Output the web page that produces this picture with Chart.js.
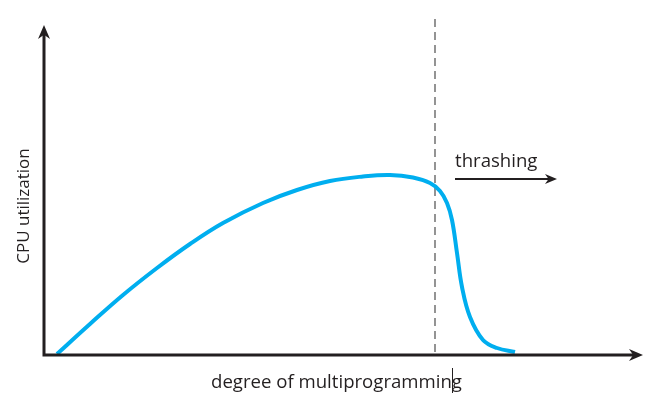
<!DOCTYPE html>
<html>
<head>
<meta charset="utf-8">
<script src="https://cdn.jsdelivr.net/npm/chart.js@4"></script>
<style>
  html, body { margin: 0; padding: 0; background: #fff; }
  #wrap { width: 656px; height: 398px; position: relative; }
</style>
</head>
<body>
<div id="wrap"><canvas id="thrashChart"></canvas></div>
<script>
// CPU utilization vs degree of multiprogramming
const degree = [13, 46, 79, 113, 146, 179, 219, 253, 286, 319, 346, 369, 386, 396, 403, 408, 413, 418, 426, 439, 453, 471];
const utilization = [1, 31, 60, 87, 111, 132, 152, 165, 174, 178.5, 180, 177.5, 172, 164, 152, 135, 102, 68, 38, 15, 7, 3];

// thrashing threshold and annotation
const thrashX = 391;
const thrashSpan = [3, 337];
const arrowX = [411, 513];
const arrowY = 176;

const xMax = 600;
const yMax = 340;
const axisTipX = 599;
const axisTipY = 330;

const ink = '#231f20';

function arrowHead(ctx, x, y, dir, len, half) {
  // dir: 'right' or 'up'
  ctx.beginPath();
  if (dir === 'right') {
    ctx.moveTo(x, y);
    ctx.lineTo(x - len, y - half);
    ctx.lineTo(x - len * 0.7, y);
    ctx.lineTo(x - len, y + half);
  } else {
    ctx.moveTo(x, y);
    ctx.lineTo(x - half, y + len);
    ctx.lineTo(x, y + len * 0.7);
    ctx.lineTo(x + half, y + len);
  }
  ctx.closePath();
  ctx.fill();
}

const decorations = {
  id: 'decorations',
  beforeDatasetsDraw(chart) {
    const ctx = chart.ctx;
    const xs = chart.scales.x;
    const ys = chart.scales.y;

    ctx.save();
    // dashed threshold
    ctx.strokeStyle = '#4d4d4d';
    ctx.lineWidth = 1.2;
    ctx.setLineDash([8, 5]);
    ctx.beginPath();
    ctx.moveTo(xs.getPixelForValue(thrashX), ys.getPixelForValue(thrashSpan[0]));
    ctx.lineTo(xs.getPixelForValue(thrashX), ys.getPixelForValue(thrashSpan[1]));
    ctx.stroke();
    ctx.restore();
  },
  afterDatasetsDraw(chart) {
    const ctx = chart.ctx;
    const xs = chart.scales.x;
    const ys = chart.scales.y;
    const x0 = xs.getPixelForValue(0);
    const y0 = ys.getPixelForValue(0);
    const xt = xs.getPixelForValue(axisTipX);
    const yt = ys.getPixelForValue(axisTipY);

    ctx.save();
    ctx.strokeStyle = ink;
    ctx.fillStyle = ink;
    ctx.lineWidth = 3;
    ctx.setLineDash([]);
    // axes
    ctx.beginPath();
    ctx.moveTo(x0, yt + 8);
    ctx.lineTo(x0, y0);
    ctx.lineTo(xt - 8, y0);
    ctx.stroke();
    arrowHead(ctx, xt, y0, 'right', 14, 6);
    arrowHead(ctx, x0, yt, 'up', 14, 6);

    // thrashing arrow
    const ay = ys.getPixelForValue(arrowY);
    const ax1 = xs.getPixelForValue(arrowX[0]);
    const ax2 = xs.getPixelForValue(arrowX[1]);
    ctx.lineWidth = 2;
    ctx.beginPath();
    ctx.moveTo(ax1, ay);
    ctx.lineTo(ax2 - 6, ay);
    ctx.stroke();
    arrowHead(ctx, ax2, ay, 'right', 12, 5);

    // labels
    ctx.font = '18.6px "Open Sans", sans-serif';
    ctx.textBaseline = 'alphabetic';
    ctx.textAlign = 'left';
    ctx.fillText('thrashing', ax1, 167);

    ctx.fillText('degree of multiprogramming', 211, 388);
    // stray cursor mark in the original figure
    ctx.lineWidth = 1;
    ctx.beginPath();
    ctx.moveTo(452.5, 368);
    ctx.lineTo(452.5, 393);
    ctx.stroke();

    ctx.font = '17px "Open Sans", sans-serif';
    ctx.textAlign = 'center';
    ctx.translate(29, 206);
    ctx.rotate(-Math.PI / 2);
    ctx.fillText('CPU utilization', 0, 0);
    ctx.restore();
  }
};

new Chart(document.getElementById('thrashChart').getContext('2d'), {
  type: 'scatter',
  data: {
    datasets: [{
      label: 'CPU utilization',
      data: degree.map((d, i) => ({ x: d, y: utilization[i] })),
      showLine: true,
      borderColor: '#00aeef',
      borderWidth: 4,
      pointRadius: 0,
      tension: 0.4,
      fill: false
    }]
  },
  options: {
    responsive: true,
    maintainAspectRatio: false,
    animation: false,
    layout: {
      padding: { left: 44, right: 12, top: 15, bottom: 43 }
    },
    scales: {
      x: { type: 'linear', min: 0, max: xMax, display: false },
      y: { type: 'linear', min: 0, max: yMax, display: false }
    },
    plugins: {
      legend: { display: false },
      tooltip: { enabled: false }
    }
  },
  plugins: [decorations]
});
</script>
</body>
</html>
